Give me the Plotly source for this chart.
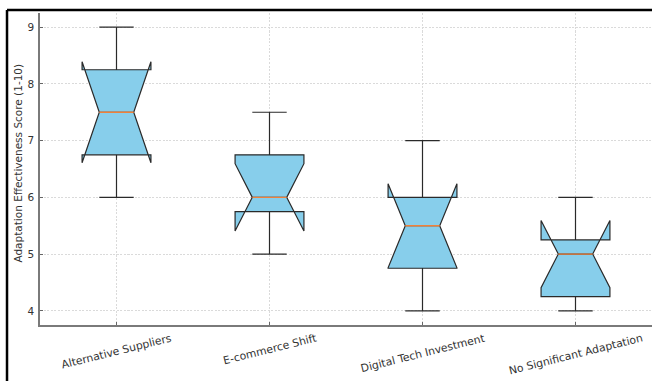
import numpy as np
import plotly.graph_objects as go

# Adaptation strategies and the effectiveness scores (1-10) reported for each
strategies = [
    "Alternative Suppliers",
    "E-commerce Shift",
    "Digital Tech Investment",
    "No Significant Adaptation",
]
scores_alternative_suppliers = [6, 6.5, 7, 7.5, 8, 8.5, 9]
scores_ecommerce_shift = [5, 5.5, 6, 6, 6.5, 7, 7.5]
scores_digital_tech = [4, 4.5, 5, 5.5, 6, 6, 7]
scores_no_adaptation = [4, 4, 4.5, 5, 5, 5.5, 6]
score_groups = [
    scores_alternative_suppliers,
    scores_ecommerce_shift,
    scores_digital_tech,
    scores_no_adaptation,
]
y_ticks = [4, 5, 6, 7, 8, 9]

positions = list(range(1, len(strategies) + 1))
box_width = 0.45
text_color = "#333333"
font_family = "DejaVu Sans"

xs, ys = [], []
for pos, grp in zip(positions, score_groups):
    xs += [pos] * len(grp)
    ys += grp

fig = go.Figure()
fig.add_trace(
    go.Box(
        x=xs,
        y=ys,
        notched=True,
        notchwidth=0.25,
        width=box_width,
        whiskerwidth=0.5,
        boxpoints=False,
        quartilemethod="inclusive",
        fillcolor="#87CEEB",
        line=dict(color="#2a2a2a", width=1.2),
        showlegend=False,
        hoverinfo="skip",
    )
)

# Orange median lines across the notch waist
half_waist = box_width / 4
for pos, grp in zip(positions, score_groups):
    med = float(np.median(grp))
    fig.add_trace(
        go.Scatter(
            x=[pos - half_waist, pos + half_waist],
            y=[med, med],
            mode="lines",
            line=dict(color="#f0813a", width=1.3),
            showlegend=False,
            hoverinfo="skip",
        )
    )

# Rotated category labels under the x axis
for pos, name in zip(positions, strategies):
    fig.add_annotation(
        x=pos, xref="x", y=0, yref="paper",
        yshift=-4, xanchor="center", yanchor="top",
        text=name, textangle=-14, showarrow=False,
        font=dict(family=font_family, size=10.8, color=text_color),
    )

fig.add_annotation(
    x=-0.0351, xref="paper", y=0.519, yref="paper",
    xanchor="center", yanchor="middle",
    text="Adaptation Effectiveness Score (1-10)", textangle=-90, showarrow=False,
    font=dict(family=font_family, size=10.5, color=text_color),
)

# Outer frame lines along the top and left edges
fig.add_shape(type="line", xref="paper", yref="paper",
              x0=-0.0539, x1=1.02, y0=1.0096, y1=1.0096,
              line=dict(color="black", width=2.5))
fig.add_shape(type="line", xref="paper", yref="paper",
              x0=-0.0539, x1=-0.0539, y0=-0.2, y1=1.0096,
              line=dict(color="black", width=2.5))

fig.update_layout(
    width=652,
    height=381,
    margin=dict(l=40, r=0, t=13, b=56),
    paper_bgcolor="white",
    plot_bgcolor="white",
    font=dict(family=font_family, size=10.5, color=text_color),
    xaxis=dict(
        range=[0.5, 4.5],
        tickvals=positions,
        showticklabels=False,
        ticks="inside",
        ticklen=3.5,
        tickcolor="#666666",
        showgrid=True,
        gridcolor="#dadada",
        griddash="2px,1.5px",
        gridwidth=0.8,
        showline=True,
        linecolor="#7a7a7a",
        linewidth=1.6,
        zeroline=False,
    ),
    yaxis=dict(
        range=[3.75, 9.25],
        tickvals=y_ticks,
        ticks="inside",
        ticklen=3.5,
        tickcolor="#666666",
        ticklabelstandoff=2,
        showgrid=True,
        gridcolor="#dadada",
        griddash="2px,1.5px",
        gridwidth=0.8,
        showline=True,
        linecolor="#7a7a7a",
        linewidth=1.6,
        zeroline=False,
    ),
)

fig.write_html("out.html")
